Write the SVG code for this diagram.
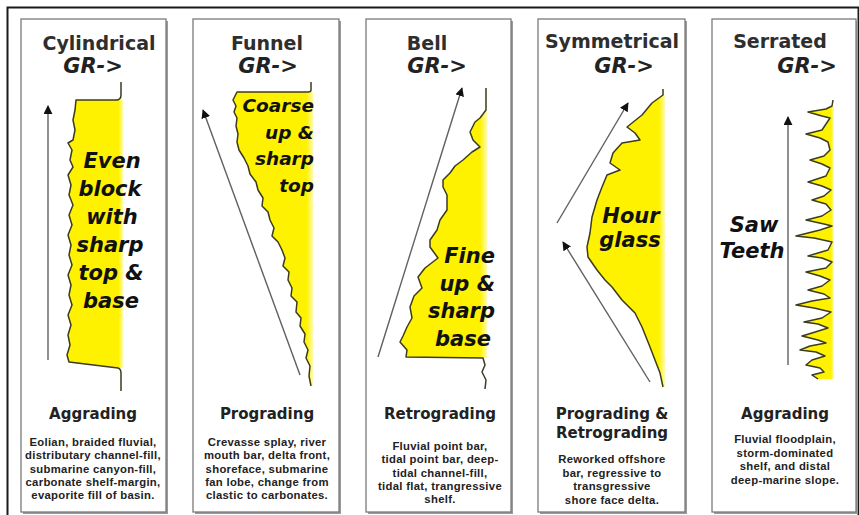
<svg xmlns="http://www.w3.org/2000/svg" width="859" height="515" viewBox="0 0 859 515">
<style>
.frame{fill:#fff;stroke:#7a7a7a;stroke-width:1.3}
.shadow{fill:#9a9a9a}
.title{font-family:"DejaVu Sans",sans-serif;font-weight:bold;font-size:19px;fill:#2e2e2e;text-anchor:middle}
.gr{font-family:"DejaVu Sans",sans-serif;font-weight:bold;font-style:italic;font-size:21px;fill:#222;text-anchor:middle}
.big{font-family:"DejaVu Sans",sans-serif;font-weight:bold;font-style:italic;font-size:21px;fill:#111}
.bigs{font-family:"DejaVu Sans",sans-serif;font-weight:bold;font-style:italic;font-size:18.5px;fill:#111;text-anchor:end}
.kind{font-family:"DejaVu Sans",sans-serif;font-weight:bold;font-size:15px;fill:#222;text-anchor:middle}
.desc{font-family:"Liberation Sans",Arial,sans-serif;font-weight:bold;font-size:11.3px;letter-spacing:0.3px;fill:#222;text-anchor:middle}
.log{fill:none;stroke:#3b3b20;stroke-width:1.5;stroke-linejoin:round}
.fill{fill:url(#yg);stroke:none}
.arr{fill:none;stroke:#606060;stroke-width:1.4;marker-end:url(#ah)}
</style>
<defs>
<linearGradient id="yg" x1="0" y1="0" x2="1" y2="0">
<stop offset="0" stop-color="#fff200"/>
<stop offset="0.92" stop-color="#fff200"/>
<stop offset="1" stop-color="#fffbb0"/>
</linearGradient>
<marker id="ah" viewBox="0 0 10 10" refX="9" refY="5" markerWidth="9" markerHeight="9" markerUnits="userSpaceOnUse" orient="auto">
<path d="M0,0 L10,5 L0,10 Z" fill="#111"/>
</marker>
</defs>
<rect x="0" y="0" width="859" height="515" fill="#fff"/>
<rect x="7.5" y="7.5" width="851" height="512" fill="none" stroke="#1a1a1a" stroke-width="2"/>

<g id="cylindrical">
<rect class="shadow" x="23" y="21" width="145" height="493"/>
<rect class="frame" x="21" y="19" width="145" height="493"/>
<text class="title" x="99" y="50">Cylindrical</text>
<text class="gr" x="93" y="73">GR-&gt;</text>
<path class="fill" d="M76,100 L75,110 L73,120 L75,130 L73,140 L68,143 L72,150 L70,160 L73,167 L68,175 L71,185 L69,195 L73,205 L69,215 L72,225 L68,235 L71,245 L69,255 L72,265 L68,275 L71,285 L69,295 L72,305 L68,315 L71,325 L68,335 L70,345 L67,355 L69,362 L121,368 L123,368 L123,100 Z"/>
<path class="log" d="M121,82 L121,95 Q121,100 116,100 L76,100 L75,110 L73,120 L75,130 L73,140 L68,143 L72,150 L70,160 L73,167 L68,175 L71,185 L69,195 L73,205 L69,215 L72,225 L68,235 L71,245 L69,255 L72,265 L68,275 L71,285 L69,295 L72,305 L68,315 L71,325 L68,335 L70,345 L67,355 L69,362 L118,368 Q121,369 121,373 L121,391"/>
<text class="big" text-anchor="middle" x="112" y="168">Even</text>
<text class="big" text-anchor="middle" x="110" y="196">block</text>
<text class="big" text-anchor="middle" x="112" y="224">with</text>
<text class="big" text-anchor="middle" x="110" y="252">sharp</text>
<text class="big" text-anchor="middle" x="111" y="280">top &amp;</text>
<text class="big" text-anchor="middle" x="111" y="308">base</text>
<text class="kind" x="93" y="419">Aggrading</text>
<text class="desc" x="93" y="446">Eolian,  braided fluvial,</text>
<text class="desc" x="93" y="459.3">distributary channel-fill,</text>
<text class="desc" x="93" y="472.6">submarine canyon-fill,</text>
<text class="desc" x="93" y="485.9">carbonate shelf-margin,</text>
<text class="desc" x="93" y="499.2">evaporite fill of  basin.</text>
</g>

<g id="funnel">
<rect class="shadow" x="195" y="21" width="146" height="493"/>
<rect class="frame" x="193" y="19" width="146" height="493"/>
<text class="title" x="267" y="50">Funnel</text>
<text class="gr" x="268" y="73">GR-&gt;</text>
<path class="fill" d="M237,92 L233,100 L236,106 L234,112 L237,118 L236,126 L238,134 L237,142 L239,150 L244,158 L248,166 L250,174 L256,182 L258,190 L263,198 L262,206 L268,212 L270,220 L274,228 L272,236 L278,242 L282,250 L285,258 L283,266 L289,272 L288,280 L292,288 L291,296 L297,302 L296,312 L301,318 L300,326 L305,334 L304,342 L308,350 L306,358 L310,366 L309,376 L311,386 L313,386 L313,92 Z"/>
<path class="log" d="M311,82 L311,90 Q311,92 308,92 L237,92 L233,100 L236,106 L234,112 L237,118 L236,126 L238,134 L237,142 L239,150 L244,158 L248,166 L250,174 L256,182 L258,190 L263,198 L262,206 L268,212 L270,220 L274,228 L272,236 L278,242 L282,250 L285,258 L283,266 L289,272 L288,280 L292,288 L291,296 L297,302 L296,312 L301,318 L300,326 L305,334 L304,342 L308,350 L306,358 L310,366 L309,376 L311,386"/>
<text class="bigs" x="314" y="112">Coarse</text>
<text class="bigs" x="314" y="139">up &amp;</text>
<text class="bigs" x="314" y="165">sharp</text>
<text class="bigs" x="314" y="192">top</text>
<text class="kind" x="267" y="419">Prograding</text>
<text class="desc" x="267" y="446">Crevasse splay, river</text>
<text class="desc" x="267" y="459.3">mouth bar, delta front,</text>
<text class="desc" x="267" y="472.6">shoreface, submarine</text>
<text class="desc" x="267" y="485.9">fan lobe, change from</text>
<text class="desc" x="267" y="499.2">clastic to carbonates.</text>
</g>

<g id="bell">
<rect class="shadow" x="368" y="21" width="145" height="493"/>
<rect class="frame" x="366" y="19" width="145" height="493"/>
<text class="title" x="427" y="50">Bell</text>
<text class="gr" x="437" y="73">GR-&gt;</text>
<path class="fill" d="M486,110 L480,118 L475,122 L470,132 L473,140 L480,147 L472,152 L463,160 L455,166 L450,173 L443,180 L443,187 L447,195 L447,210 L440,220 L437,230 L430,240 L430,247 L438,258 L425,268 L418,277 L422,288 L414,296 L410,307 L412,318 L407,327 L403,336 L400,342 L407,350 L406,357 L487,358 L487,110 Z"/>
<path class="log" d="M486,88 L486,110 L480,118 L475,122 L470,132 L473,140 L480,147 L472,152 L463,160 L455,166 L450,173 L443,180 L443,187 L447,195 L447,210 L440,220 L437,230 L430,240 L430,247 L438,258 L425,268 L418,277 L422,288 L414,296 L410,307 L412,318 L407,327 L403,336 L400,342 L407,350 L406,357 L483,358 L485,365 L482,372 L486,380 L485,389"/>
<text class="big" text-anchor="end" x="495" y="263">Fine</text>
<text class="big" text-anchor="end" x="495" y="291">up &amp;</text>
<text class="big" text-anchor="end" x="495" y="318">sharp</text>
<text class="big" text-anchor="end" x="491" y="346">base</text>
<text class="kind" x="440" y="419">Retrograding</text>
<text class="desc" x="440" y="450">Fluvial point bar,</text>
<text class="desc" x="440" y="463.3">tidal point bar, deep-</text>
<text class="desc" x="440" y="476.6">tidal channel-fill,</text>
<text class="desc" x="440" y="489.9">tidal flat, trangressive</text>
<text class="desc" x="440" y="503.2">shelf.</text>
</g>

<g id="symmetrical">
<rect class="shadow" x="540" y="21" width="147" height="493"/>
<rect class="frame" x="538" y="19" width="147" height="493"/>
<text class="title" x="612" y="48">Symmetrical</text>
<text class="gr" x="624" y="73">GR-&gt;</text>
<path class="fill" d="M663,95 L652,103 L642,115 L627,127 L635,133 L640,140 L622,143 L613,153 L610,163 L620,170 L607,175 L602,187 L597,200 L592,217 L590,233 L587,247 L588,257 L597,270 L605,280 L612,287 L622,300 L628,306 L635,313 L642,327 L646,337 L650,347 L655,360 L660,373 L663,387 L665,387 L665,95 Z"/>
<path class="log" d="M663,89 L663,95 L652,103 L642,115 L627,127 L635,133 L640,140 L622,143 L613,153 L610,163 L620,170 L607,175 L602,187 L597,200 L592,217 L590,233 L587,247 L588,257 L597,270 L605,280 L612,287 L622,300 L628,306 L635,313 L642,327 L646,337 L650,347 L655,360 L660,373 L663,387"/>
<text class="big" text-anchor="middle" x="631" y="223">Hour</text>
<text class="big" text-anchor="middle" x="630" y="247">glass</text>
<text class="kind" x="612" y="419">Prograding &amp;</text>
<text class="kind" x="612" y="438">Retrograding</text>
<text class="desc" x="612" y="463">Reworked offshore</text>
<text class="desc" x="612" y="476.5">bar, regressive to</text>
<text class="desc" x="612" y="490">transgressive</text>
<text class="desc" x="612" y="503.5">shore face delta.</text>
</g>

<g id="serrated">
<rect class="shadow" x="714" y="21" width="144" height="493"/>
<rect class="frame" x="712" y="19" width="144" height="493"/>
<text class="title" x="780" y="48">Serrated</text>
<text class="gr" x="807" y="73">GR-&gt;</text>
<path class="fill" d="M832,106 L826,109 L808,112 L822,116 L830,118 L826,124 L822,130 L806,134 L820,138 L828,142 L830,150 L824,156 L810,160 L822,164 L830,168 L826,176 L808,182 L822,186 L831,190 L824,196 L812,200 L826,204 L831,210 L822,216 L806,220 L824,224 L832,226 L820,230 L796,236 L814,238 L832,242 L828,250 L808,256 L822,258 L832,262 L826,268 L806,272 L820,276 L830,280 L822,286 L808,290 L824,294 L830,298 L812,301 L796,305 L814,308 L831,312 L822,318 L804,322 L818,324 L828,328 L812,333 L802,336 L818,340 L826,343 L810,346 L800,350 L816,352 L825,356 L812,360 L806,365 L820,368 L824,372 L812,375 L818,379 L834,379 L834,106 Z"/>
<path class="log" d="M833,100 L832,106 L826,109 L808,112 L822,116 L830,118 L826,124 L822,130 L806,134 L820,138 L828,142 L830,150 L824,156 L810,160 L822,164 L830,168 L826,176 L808,182 L822,186 L831,190 L824,196 L812,200 L826,204 L831,210 L822,216 L806,220 L824,224 L832,226 L820,230 L796,236 L814,238 L832,242 L828,250 L808,256 L822,258 L832,262 L826,268 L806,272 L820,276 L830,280 L822,286 L808,290 L824,294 L830,298 L812,301 L796,305 L814,308 L831,312 L822,318 L804,322 L818,324 L828,328 L812,333 L802,336 L818,340 L826,343 L810,346 L800,350 L816,352 L825,356 L812,360 L806,365 L820,368 L824,372 L812,375 L818,379"/>
<text class="big" text-anchor="middle" x="754" y="232">Saw</text>
<text class="big" text-anchor="middle" x="752" y="258">Teeth</text>
<text class="kind" x="785" y="419">Aggrading</text>
<text class="desc" x="785" y="443">Fluvial floodplain,</text>
<text class="desc" x="785" y="456.5">storm-dominated</text>
<text class="desc" x="785" y="470">shelf, and distal</text>
<text class="desc" x="785" y="483.5">deep-marine slope.</text>
</g>

<g id="arrows">
<line class="arr" x1="48" y1="360" x2="48" y2="106"/>
<line class="arr" x1="300" y1="375" x2="203" y2="110"/>
<line class="arr" x1="378" y1="357" x2="462" y2="88"/>
<line class="arr" x1="557" y1="223" x2="628" y2="103"/>
<line class="arr" x1="650" y1="382" x2="563" y2="242"/>
<line class="arr" x1="788" y1="365" x2="788" y2="117"/>
</g>
</svg>
